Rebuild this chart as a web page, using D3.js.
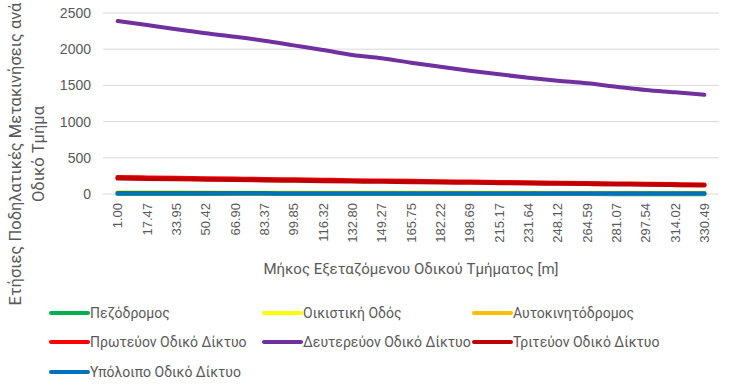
<!DOCTYPE html>
<html>
<head>
<meta charset="utf-8">
<script src="https://cdn.jsdelivr.net/npm/d3@7"></script>
<style>
  html, body { margin: 0; padding: 0; background: #fff; }
  svg { display: block; font-family: Roboto, "Noto Sans", sans-serif; }
</style>
</head>
<body>
<svg id="chart" width="729" height="385"></svg>
<script>
// Segment length categories [m]
const categories = ["1.00", "17.47", "33.95", "50.42", "66.90", "83.37", "99.85", "116.32",
  "132.80", "149.27", "165.75", "182.22", "198.69", "215.17", "231.64", "248.12",
  "264.59", "281.07", "297.54", "314.02", "330.49"];

// Annual cycling trips per road segment, by road class
const pedestrian = [2, 2, 2, 2, 2, 2, 2, 2, 2, 2, 2, 2, 2, 2, 2, 2, 2, 1, 1, 1, 1];
const residential = [19, 19, 19, 18, 18, 18, 18, 17, 17, 17, 17, 16, 16, 16, 16, 15, 15, 15, 15, 14, 14];
const motorway = [13, 13, 13, 13, 12, 12, 12, 12, 12, 12, 11, 11, 11, 11, 11, 11, 10, 10, 10, 10, 10];
const primary = [232, 226, 221, 215, 210, 204, 199, 194, 188, 183, 178, 173, 168, 163, 158, 153, 148, 143, 138, 133, 127];
const secondary = [2390, 2334, 2275, 2220, 2173, 2117, 2053, 1989, 1920, 1874, 1814, 1758, 1703, 1653, 1606, 1565, 1529, 1482, 1436, 1405, 1371];
const tertiary = [216, 211, 206, 201, 196, 191, 186, 181, 176, 171, 167, 162, 158, 153, 149, 144, 140, 135, 131, 126, 121];
const other = [9, 9, 9, 9, 9, 9, 8, 8, 8, 8, 8, 8, 8, 7, 7, 7, 7, 7, 7, 7, 6];

const yTicks = [0, 500, 1000, 1500, 2000, 2500];

const series = [
  { name: "Πεζόδρομος", values: pedestrian, color: "#00b050" },
  { name: "Οικιστική Οδός", values: residential, color: "#ffff00" },
  { name: "Αυτοκινητόδρομος", values: motorway, color: "#ffc000" },
  { name: "Πρωτεύον Οδικό Δίκτυο", values: primary, color: "#ff0000" },
  { name: "Δευτερεύον Οδικό Δίκτυο", values: secondary, color: "#7030a0" },
  { name: "Τριτεύον Οδικό Δίκτυο", values: tertiary, color: "#c00000" },
  { name: "Υπόλοιπο Οδικό Δίκτυο", values: other, color: "#0070c0" }
];

const svg = d3.select("#chart");
const plot = { left: 103, right: 719, top: 13, bottom: 194 };
const textColor = "#595959";

const x = d3.scaleBand().domain(categories).range([plot.left, plot.right]);
const y = d3.scaleLinear().domain([0, 2500]).range([plot.bottom, plot.top]);

// Horizontal gridlines
svg.append("g")
  .selectAll("line")
  .data(yTicks)
  .join("line")
  .attr("x1", plot.left).attr("x2", plot.right)
  .attr("y1", d => y(d)).attr("y2", d => y(d))
  .attr("stroke", "#d9d9d9").attr("stroke-width", 1);

// Y axis labels
const yAxis = svg.append("g")
  .attr("transform", `translate(${plot.left - 12},0)`)
  .call(d3.axisLeft(y).tickValues(yTicks).tickFormat(d3.format("d")).tickSize(0).tickPadding(0));
yAxis.select(".domain").remove();
yAxis.selectAll("text")
  .attr("fill", textColor)
  .style("font-size", "14px");

// X axis labels (rotated)
const xAxis = svg.append("g")
  .attr("transform", `translate(0,${plot.bottom})`)
  .call(d3.axisBottom(x).tickSize(0));
xAxis.select(".domain").remove();
xAxis.selectAll("text")
  .attr("fill", textColor)
  .style("font-size", "13px")
  .attr("transform", "rotate(-90)")
  .attr("text-anchor", "end")
  .attr("x", -9)
  .attr("y", 0)
  .attr("dy", "0.35em");

// Series lines
const line = d3.line()
  .x((d, i) => x(categories[i]) + x.bandwidth() / 2)
  .y(d => y(d))
  .curve(d3.curveMonotoneX);

svg.append("g")
  .selectAll("path")
  .data(series)
  .join("path")
  .attr("d", d => line(d.values))
  .attr("fill", "none")
  .attr("stroke", d => d.color)
  .attr("stroke-width", d => d.values === secondary ? 4 : 4.5)
  .attr("stroke-linecap", "round")
  .attr("stroke-linejoin", "round");

// Axis titles
svg.append("text")
  .attr("x", (plot.left + plot.right) / 2)
  .attr("y", 274)
  .attr("text-anchor", "middle")
  .attr("fill", textColor)
  .style("font-size", "15px")
  .text("Μήκος Εξεταζόμενου Οδικού Τμήματος [m]");

const yTitle = svg.append("text")
  .attr("transform", "translate(21,154) rotate(-90)")
  .attr("text-anchor", "middle")
  .attr("fill", textColor)
  .style("font-size", "16.5px");
yTitle.append("tspan").attr("x", 0).attr("dy", 0).text("Ετήσιες Ποδηλατικές Μετακινήσεις ανά");
yTitle.append("tspan").attr("x", 0).attr("dy", 23).text("Οδικό Τμήμα");

// Legend
const legendCols = [51, 264, 474];
const legendRows = [313, 342, 372];
const legend = svg.append("g")
  .selectAll("g")
  .data(series)
  .join("g")
  .attr("transform", (d, i) => `translate(${legendCols[i % 3]},${legendRows[Math.floor(i / 3)]})`);
legend.append("line")
  .attr("x1", 0).attr("x2", 37)
  .attr("y1", 0).attr("y2", 0)
  .attr("stroke", d => d.color)
  .attr("stroke-width", 4)
  .attr("stroke-linecap", "round");
legend.append("text")
  .attr("x", 39)
  .attr("dy", "0.35em")
  .attr("fill", textColor)
  .style("font-size", "14px")
  .text(d => d.name);
</script>
</body>
</html>
